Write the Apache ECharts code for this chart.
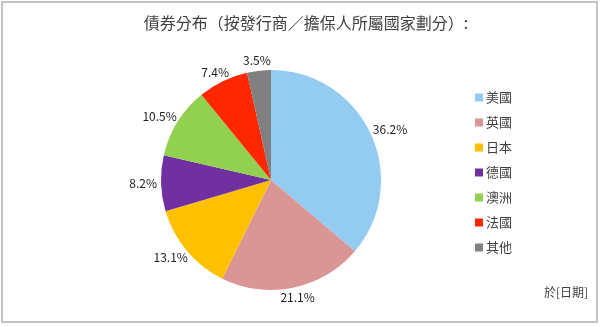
<!DOCTYPE html>
<html>
<head>
<meta charset="utf-8">
<script src="https://cdn.jsdelivr.net/npm/echarts@6/dist/echarts.min.js"></script>
<style>html,body{margin:0;padding:0;background:#fff}#c{width:600px;height:327px}</style>
</head>
<body>
<div id="c"></div>
<script>
var titleText = '債券分布（按發行商／擔保人所屬國家劃分）:';
var categories = ['美國', '英國', '日本', '德國', '澳洲', '法國', '其他'];
var values = [36.2, 21.1, 13.1, 8.2, 10.5, 7.4, 3.5];
var colors = ['#93CBF1', '#D99694', '#FFC000', '#7030A0', '#92D050', '#FF2600', '#808080'];
var footnote = '於[日期]';

var font = '"Noto Sans CJK TC", "Noto Sans", sans-serif';
var CX = 271, CY = 180, R = 110, GAP = 4;
var total = values.reduce(function (a, b) { return a + b; }, 0);

var chart = echarts.init(document.getElementById('c'));
chart.setOption({
  animation: false,
  color: colors,
  title: {
    text: titleText,
    left: 301, top: 10, textAlign: 'center',
    textStyle: { fontFamily: font, fontSize: 16, fontWeight: 'normal', color: '#404040' }
  },
  legend: {
    orient: 'vertical',
    left: 470, top: 86,
    itemWidth: 8, itemHeight: 8, itemGap: 12,
    icon: 'rect',
    textStyle: { fontFamily: font, fontSize: 13, color: '#404040', padding: [0, 0, 0, -2] },
    data: categories
  },
  graphic: [
    { type: 'rect', shape: { x: 2, y: 2, width: 595, height: 320 }, style: { fill: 'none', stroke: '#c4c4c4', lineWidth: 2 }, silent: true },
    { type: 'text', right: 12, bottom: 29, style: { text: footnote, font: '12px ' + font, fill: '#404040' } }
  ],
  series: [{
    type: 'pie',
    center: [CX, CY],
    radius: [0, R],
    startAngle: 90,
    clockwise: true,
    label: {
      show: true, position: 'outside',
      formatter: function (p) { return p.value.toFixed(1) + '%'; },
      fontFamily: font, fontSize: 12, color: '#222'
    },
    labelLine: { show: false, length: 6, length2: 0 },
    labelLayout: function (params) {
      var i = params.dataIndex, cum = 0;
      for (var k = 0; k < i; k++) cum += values[k];
      var th = (cum + values[i] / 2) / total * 2 * Math.PI;
      var ux = Math.sin(th), uy = -Math.cos(th);
      var w = params.labelRect.width, h = params.labelRect.height;
      return {
        x: CX + ux * (R + GAP) + ux * w / 2,
        y: CY + uy * (R + GAP) + uy * h / 2,
        align: 'center', verticalAlign: 'middle'
      };
    },
    itemStyle: { borderWidth: 0 },
    data: categories.map(function (c, i) { return { name: c, value: values[i] }; })
  }]
});
</script>
</body>
</html>
